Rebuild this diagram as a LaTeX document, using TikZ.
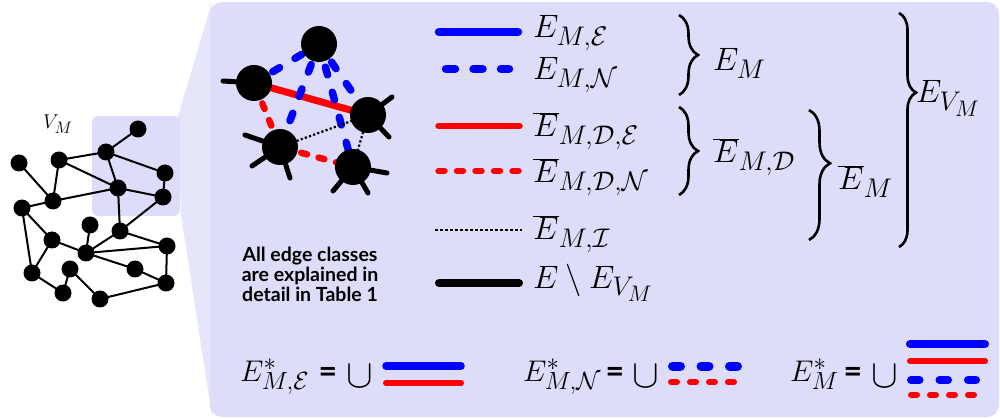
\RequirePackage{fix-cm}
\documentclass[tikz,border=0pt]{standalone}
\usepackage{graphicx}
\usepackage{fontspec}
\newfontfamily\latofont{Lato}
\usetikzlibrary{decorations.pathreplacing}
\newcommand{\hmath}[2]{\scalebox{#1}{\Huge$#2$}}
\definecolor{panelc}{RGB}{221,221,250}
\definecolor{wedgec}{RGB}{230,230,251}
\definecolor{eblue}{RGB}{0,0,255}
\definecolor{ered}{RGB}{255,0,0}
\tikzset{
  gnode/.style={circle,fill=black,minimum size=17pt,inner sep=0pt},
  gedge/.style={line width=2pt},
  bnode/.style={circle,fill=black,minimum size=36pt,inner sep=0pt},
  stubline/.style={line width=5pt,line cap=round},
  bluesolid/.style={eblue,line width=8.5pt,line cap=round},
  bluedash/.style={eblue,line width=8.5pt,line cap=round,dash pattern=on 9pt off 18.5pt},
  redsolid/.style={ered,line width=6.5pt,line cap=round},
  reddash/.style={ered,line width=6.5pt,line cap=round,dash pattern=on 6pt off 12.5pt},
  blackdot/.style={black,line width=2.2pt,dash pattern=on 2.5pt off 2.5pt},
  blacksolid/.style={black,line width=8pt,line cap=round},
  legtext/.style={anchor=base west,inner sep=0pt},
  eqtext/.style={inner sep=0pt,font=\latofont\bfseries\fontsize{32}{34}\selectfont},
  cuptext/.style={inner sep=0pt,font=\fontsize{40}{44}\selectfont},
  bracestyle/.style={line width=2.6pt,decorate,decoration={brace,amplitude=#1}},
}
\begin{document}
\begin{tikzpicture}[x=1pt,y=-1pt]
\useasboundingbox (0,0) rectangle (1000,419);
% callout
\fill[wedgec] (178,116) -- (212,2) -- (212,417) -- (181,215) -- cycle;
\fill[panelc,rounded corners=12pt] (210,2) rectangle (999,417);
\fill[panelc,rounded corners=6pt] (92,116) rectangle (180,216);
% left graph
\node[legtext] (vm) at (43,129) {\hmath{0.8}{V_M}};
\foreach \n/\x/\y in {1/138/129,2/106/152,3/19/163,4/59/160,5/165/173,6/118/188,7/163/197,8/53/201,9/22/208,10/90/225,11/120/231,12/52/240,13/86/253,14/167/246,15/70/269,16/135/269,17/32/273,18/166/283,19/63/293,20/100/299}
  \coordinate (p\n) at (\x,\y);
\foreach \a/\b in {1/2,2/4,2/5,2/6,4/6,4/8,3/8,8/6,5/7,6/7,6/11,7/11,8/9,9/12,9/17,12/13,12/17,17/19,19/15,15/20,20/18,18/14,14/11,14/13,13/11,13/16,16/18,10/13}
  \draw[gedge] (p\a) -- (p\b);
\foreach \n in {1,...,20}
  \node[gnode] (g\n) at (p\n) {};
% zoomed graph
\coordinate (cA) at (319,44);
\coordinate (cB) at (254,83);
\coordinate (cC) at (368,115);
\coordinate (cD) at (280,147);
\coordinate (cE) at (353,167);
\coordinate (sB1) at (223,81);
\coordinate (sC1) at (392,97);
\coordinate (sC2) at (389,137);
\coordinate (sD1) at (245,135);
\coordinate (sD2) at (252,166);
\coordinate (sD3) at (290,178);
\coordinate (sE1) at (387,173);
\coordinate (sE2) at (333,191);
\coordinate (sE3) at (368,193);
\draw[stubline] (cB) -- (sB1);
\draw[stubline] (cC) -- (sC1);
\draw[stubline] (cC) -- (sC2);
\draw[stubline] (cD) -- (sD1);
\draw[stubline] (cD) -- (sD2);
\draw[stubline] (cD) -- (sD3);
\draw[stubline] (cE) -- (sE1);
\draw[stubline] (cE) -- (sE2);
\draw[stubline] (cE) -- (sE3);
\draw[ered,line width=7pt] (cB) -- (cC);
\draw[eblue,line width=7.5pt,line cap=round,dash pattern=on 8pt off 18pt,dash phase=-20pt] (cA) -- (cB);
\draw[eblue,line width=7.5pt,line cap=round,dash pattern=on 8pt off 18pt,dash phase=-22pt] (cA) -- (cD);
\draw[eblue,line width=7.5pt,line cap=round,dash pattern=on 8pt off 18pt,dash phase=-22pt] (cA) -- (cC);
\draw[eblue,line width=7.5pt,line cap=round,dash pattern=on 8pt off 18pt,dash phase=-24pt] (cA) -- (cE);
\draw[ered,line width=6.5pt,line cap=round,dash pattern=on 6pt off 12pt,dash phase=-22pt] (cB) -- (cD);
\draw[ered,line width=6.5pt,line cap=round,dash pattern=on 6pt off 12pt,dash phase=-22pt] (cD) -- (cE);
\draw[black,line width=2.2pt,dash pattern=on 2.2pt off 2.2pt] (cD) -- (cC);
\draw[black,line width=2.2pt,dash pattern=on 2.2pt off 2.2pt] (cC) -- (cE);
\node[bnode] (nA) at (cA) {};
\node[bnode] (nB) at (cB) {};
\node[bnode] (nC) at (cC) {};
\node[bnode] (nD) at (cD) {};
\node[bnode] (nE) at (cE) {};
\node[align=center,font=\latofont\bfseries\fontsize{19.5}{20}\selectfont] (note) at (310,274) {All edge classes\\are explained in\\detail in Table 1};
% legend
\draw[bluesolid] (439,32) -- (518,32);
\draw[bluedash] (446,69) -- (509,69);
\draw[redsolid] (438.5,126) -- (519.5,126);
\draw[reddash] (438.5,171) -- (519.5,171);
\draw[blackdot] (435,230) -- (522,230);
\draw[blacksolid] (439,283) -- (519,283);
\node[legtext] (l1) at (533,38) {\hmath{1.3}{E_{M,\mathcal{E}}}};
\node[legtext] (l2) at (533,80) {\hmath{1.3}{E_{M,\mathcal{N}}}};
\node[legtext] (l3) at (533,137) {\hmath{1.3}{\overline{E}_{M,\mathcal{D},\mathcal{E}}}};
\node[legtext] (l4) at (533,183) {\hmath{1.3}{\overline{E}_{M,\mathcal{D},\mathcal{N}}}};
\node[legtext] (l5) at (533,240) {\hmath{1.3}{\overline{E}_{M,\mathcal{I}}}};
\node[legtext] (l6) at (533,288) {\hmath{1.3}{E\setminus E_{V_M}}};
% braces
\draw[bracestyle=19pt] (679,15) -- (679,95);
\draw[bracestyle=19pt] (679,107) -- (679,195);
\draw[bracestyle=21pt,decoration={aspect=0.41}] (809,110) -- (809,240);
\draw[bracestyle=17pt,decoration={aspect=0.34}] (899,13) -- (899,247);
\node[legtext] (b1) at (713,71) {\hmath{1.3}{E_M}};
\node[legtext] (b2) at (713,163) {\hmath{1.3}{\overline{E}_{M,\mathcal{D}}}};
\node[legtext] (b3) at (838,190) {\hmath{1.3}{\overline{E}_M}};
\node[legtext] (b4) at (916,103) {\hmath{1.3}{E_{V_M}}};
% bottom row
\node[legtext] (u1) at (240,381) {\hmath{1.2}{E^*_{M,\mathcal{E}}}};
\node[eqtext] (q1) at (328,375) {=};
\node[cuptext] (c1) at (360,376) {$\cup$};
\draw[bluesolid,line width=7.5pt] (386,366) -- (461,366);
\draw[redsolid,line width=6pt] (386,383) -- (461,383);
\node[legtext] (u2) at (523,381) {\hmath{1.2}{E^*_{M,\mathcal{N}}}};
\node[eqtext] (q2) at (615,375) {=};
\node[cuptext] (c2) at (646,376) {$\cup$};
\draw[eblue,line width=9pt,line cap=round,dash pattern=on 8pt off 20.5pt] (672.5,366) -- (737.5,366);
\draw[ered,line width=6pt,line cap=round,dash pattern=on 6pt off 13pt] (671,382) -- (734,382);
\node[legtext] (u3) at (790,381) {\hmath{1.2}{E^*_M}};
\node[eqtext] (q3) at (853,375) {=};
\node[cuptext] (c3) at (885,376) {$\cup$};
\draw[bluesolid,line width=8pt] (910,344) -- (985,344);
\draw[redsolid,line width=6pt] (910,361) -- (985,361);
\draw[eblue,line width=8pt,line cap=round,dash pattern=on 8.5pt off 20pt] (911,380) -- (976,380);
\draw[ered,line width=6pt,line cap=round,dash pattern=on 6pt off 13pt] (911,395) -- (974,395);
\end{tikzpicture}
\end{document}
